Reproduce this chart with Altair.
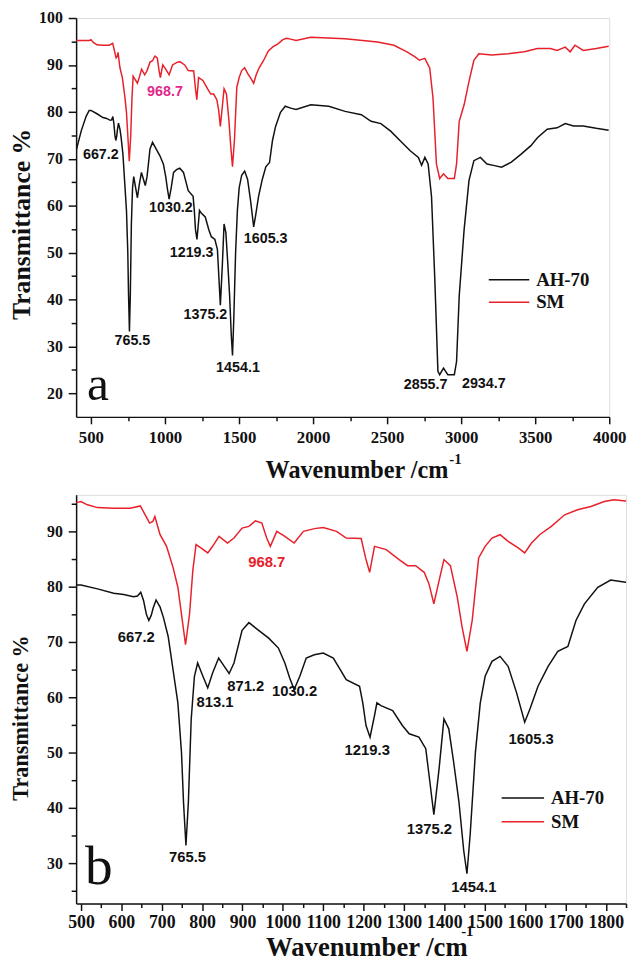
import altair as alt
import pandas as pd

# ---------------- data ----------------
ah_wn = [400, 434, 467, 488, 500, 541, 581, 606, 630, 640, 648, 655, 662, 668, 674, 679, 686, 696, 704,
         716, 728, 740, 749, 754, 760, 766, 773, 781, 789, 802, 814, 826, 841, 855, 867, 879, 899, 916,
         940, 965, 989, 1005, 1017, 1028, 1042, 1058, 1078, 1100, 1125, 1157, 1190, 1198, 1206, 1216,
         1227, 1233, 1243, 1272, 1296, 1313, 1337, 1354, 1362, 1374, 1387, 1399, 1411, 1423, 1436, 1448,
         1456, 1464, 1477, 1489, 1501, 1518, 1538, 1558, 1579, 1599, 1612, 1632, 1657, 1681, 1706, 1726,
         1747, 1780, 1812, 1849, 1885, 1985, 2106, 2216, 2326, 2392, 2458, 2524, 2590, 2656, 2711, 2733,
         2755, 2777, 2800, 2822, 2843, 2855, 2881, 2910, 2954, 2969, 2987, 3020, 3053, 3086, 3130, 3174,
         3218, 3273, 3339, 3405, 3471, 3515, 3581, 3648, 3703, 3758, 3824, 3912, 3996]
ah_t = [71.7, 75.9, 79.0, 80.3, 80.3, 79.6, 78.8, 78.6, 78.2, 78.3, 79.0, 77.5, 75.0, 73.9, 74.8, 76.2, 77.6, 76.3, 74.5,
        71.0, 65.0, 59.0, 50.0, 41.0, 33.2, 41.0, 56.0, 63.8, 66.2, 63.8, 61.7, 64.4, 67.1, 65.6, 64.3, 66.2, 72.1, 73.5,
        72.1, 70.7, 68.9, 66.2, 63.5, 61.4, 63.8, 67.1, 67.7, 68.0, 67.1, 63.2, 62.0, 59.0, 54.9, 52.8,
        56.7, 59.0, 58.5, 57.6, 54.9, 53.4, 52.8, 50.7, 46.0, 38.8, 47.1, 56.1, 54.3, 48.3, 41.2, 32.3,
        28.1, 35.2, 50.1, 59.0, 63.8, 66.5, 67.4, 65.6, 60.8, 55.5, 57.9, 62.0, 65.6, 68.3, 69.2, 73.9,
        76.9, 79.9, 81.2, 80.8, 80.5, 81.5, 81.2, 80.1, 79.4, 78.0, 77.5, 75.9, 73.8, 71.7, 70.3, 68.6,
        70.3, 68.9, 61.9, 44.4, 24.7, 24.0, 25.4, 24.0, 24.0, 26.8, 40.8, 54.9, 65.4, 69.6, 70.3, 68.9,
        68.6, 68.2, 69.3, 71.0, 72.8, 74.5, 76.3, 76.6, 77.5, 77.0, 77.0, 76.5, 76.1]

sm_wn = [400, 467, 488, 500, 516, 541, 581, 622, 647, 659, 670, 678, 683, 696, 712, 728, 740, 751, 759,
         769, 777, 785, 797, 814, 826, 842, 863, 879, 899, 916, 932, 948, 960, 969, 985, 1005, 1028, 1051,
         1078, 1100, 1133, 1157, 1194, 1205, 1215, 1227, 1256, 1288, 1309, 1329, 1350, 1362, 1374, 1387,
         1399, 1415, 1432, 1444, 1456, 1469, 1485, 1501, 1518, 1538, 1558, 1583, 1599, 1616, 1636, 1665,
         1698, 1730, 1763, 1796, 1820, 1849, 1885, 1985, 2216, 2436, 2546, 2634, 2689, 2718, 2755, 2788,
         2810, 2833, 2855, 2881, 2910, 2954, 2969, 2987, 3020, 3053, 3086, 3119, 3207, 3317, 3427, 3515,
         3603, 3648, 3703, 3736, 3769, 3824, 3912, 3996]
sm_t = [95.2, 95.2, 95.2, 95.4, 94.8, 94.3, 94.2, 94.2, 94.6, 93.0, 91.5, 91.8, 92.7, 89.4, 87.3, 83.5, 79.9, 73.9, 69.5,
        75.1, 82.9, 87.6, 87.0, 86.1, 87.3, 89.1, 87.9, 88.8, 90.6, 90.9, 91.9, 91.5, 88.8, 87.3, 90.0, 89.1, 87.9, 90.0,
        90.5, 90.7, 90.0, 88.8, 88.7, 85.2, 82.6, 87.3, 86.7, 84.9, 83.8, 83.8, 82.6, 80.5, 76.9, 81.1,
        84.9, 83.8, 78.1, 72.7, 68.3, 73.9, 85.2, 87.3, 88.8, 89.4, 88.2, 87.0, 86.1, 87.9, 89.4, 90.9,
        93.0, 93.9, 94.5, 95.4, 95.7, 95.5, 95.2, 95.9, 95.6, 94.9, 94.2, 92.8, 91.7, 91.0, 91.4, 89.3,
        82.9, 68.9, 65.8, 66.8, 65.8, 65.8, 68.9, 78.0, 81.5, 86.5, 91.0, 92.4, 92.1, 92.4, 92.8, 93.5,
        93.5, 93.1, 93.8, 92.8, 94.2, 93.1, 93.5, 94.0]

series_names = ["AH-70", "SM"]
series_colors = ["#111111", "#e8202a"]

# peak labels, panel a
ann_a_text = ["667.2", "968.7", "765.5", "1030.2", "1219.3", "1375.2", "1454.1", "1605.3", "2855.7", "2934.7"]
ann_a_x = [567, 1000, 780, 1040, 1180, 1273, 1493, 1680, 2760, 3153]
ann_a_y = [70.7, 84.2, 31.2, 59.4, 49.9, 36.8, 25.3, 52.8, 21.7, 21.9]
ann_a_col = ["#111111", "#e0288a", "#111111", "#111111", "#111111", "#111111", "#111111", "#111111",
             "#111111", "#111111"]

# peak labels, panel b
ann_b_text = ["667.2", "968.7", "765.5", "813.1", "871.2", "1030.2", "1219.3", "1375.2", "1454.1", "1605.3"]
ann_b_x = [637, 960, 764, 832, 908, 1029, 1209, 1363, 1473, 1615]
ann_b_y = [70.9, 84.5, 31.1, 59.1, 62.0, 61.2, 50.5, 36.1, 25.7, 52.5]
ann_b_col = ["#111111", "#e8202a", "#111111", "#111111", "#111111", "#111111", "#111111", "#111111",
             "#111111", "#111111"]

spectra = pd.concat([
    pd.DataFrame({"wn": ah_wn, "t": ah_t, "series": series_names[0]}),
    pd.DataFrame({"wn": sm_wn, "t": sm_t, "series": series_names[1]}),
])

SERIF = "Liberation Serif"
SANS = "Liberation Sans"


def panel(p):
    xscale = alt.Scale(domain=p["xdom"], nice=False, zero=False)
    yscale = alt.Scale(domain=p["ydom"], nice=False, zero=False)
    xmajor, ymajor = p["xmajor"], p["ymajor"]
    xaxis = alt.Axis(
        values=p["xvals"], tickCount=200, format="d",
        labelExpr=f"datum.value % {xmajor} === 0 ? datum.label : ''",
        labelFont=SERIF, labelFontWeight="bold", labelFontSize=p["xlab"], labelColor="#111",
        labelFlush=False, labelOverlap=False, labelPadding=p["xpad"], grid=False,
        tickSize={"condition": {"test": f"datum.value % {xmajor} === 0", "value": 7}, "value": 4},
        tickWidth=1.5, tickColor="#111", domainColor="#111", domainWidth=1.5,
        title="Wavenumber /cm", titleFont=SERIF, titleFontWeight="bold", titleFontSize=p["xt_size"],
        titleColor="#111", titleX=p["xt_x"], titleY=p["xt_y"], titleAlign="center",
        titleBaseline="alphabetic",
    )
    yaxis = alt.Axis(
        values=p["yvals"], tickCount=200, format="d",
        labelExpr=f"datum.value % {ymajor} === 0 ? datum.label : ''",
        labelFont=SERIF, labelFontWeight="bold", labelFontSize=16, labelColor="#111",
        labelFlush=False, labelOverlap=False, labelPadding=p["ypad"], grid=False,
        tickSize={"condition": {"test": f"datum.value % {ymajor} === 0", "value": 8}, "value": 5},
        tickWidth=1.5, tickColor="#111", domainColor="#111", domainWidth=1.5,
        title="Transmittance %", titleFont=SERIF, titleFontWeight="bold", titleFontSize=p["yt_size"],
        titleColor="#111", titleAngle=270, titleX=p["yt_x"], titleY=p["yt_y"], titleAlign="center",
        titleBaseline="middle",
    )
    lines = alt.Chart(spectra).mark_line(strokeWidth=1.5, clip=True).encode(
        x=alt.X("wn:Q", scale=xscale, axis=xaxis),
        y=alt.Y("t:Q", scale=yscale, axis=yaxis),
        color=alt.Color("series:N", scale=alt.Scale(domain=series_names, range=series_colors), legend=None),
    )
    ann_df = pd.DataFrame({"label": p["ann_text"], "x": p["ann_x"], "y": p["ann_y"], "c": p["ann_col"]})
    ann = alt.Chart(ann_df).mark_text(font=SANS, fontWeight="bold", fontSize=p["ann_size"]).encode(
        x=alt.X("x:Q", scale=xscale), y=alt.Y("y:Q", scale=yscale), text="label:N",
        color=alt.Color("c:N", scale=None),
    )
    let_df = pd.DataFrame({"label": [p["letter"]], "x": [p["letter_x"]], "y": [p["letter_y"]]})
    let = alt.Chart(let_df).mark_text(font=SERIF, fontSize=p["letter_size"], baseline="alphabetic",
                                      color="#111").encode(
        x=alt.X("x:Q", scale=xscale), y=alt.Y("y:Q", scale=yscale), text="label:N")
    sup = alt.Chart(pd.DataFrame({"s": ["-1"]})).mark_text(
        font=SERIF, fontWeight="bold", fontSize=15, color="#111", align="left", baseline="alphabetic"
    ).encode(x=alt.value(p["sup"][0]), y=alt.value(p["sup"][1]), text="s:N")
    layers = [lines, ann, let, sup]
    for i, name in enumerate(series_names):
        d = pd.DataFrame({"name": [name]})
        layers.append(alt.Chart(d).mark_rule(strokeWidth=1.5, color=series_colors[i]).encode(
            x=alt.value(p["leg_x0"]), x2=alt.value(p["leg_x1"]), y=alt.value(p["leg_y"][i])))
        layers.append(alt.Chart(d).mark_text(font=SERIF, fontWeight="bold", fontSize=19,
                                             align="left", baseline="middle", color="#111").encode(
            x=alt.value(p["leg_tx"]), y=alt.value(p["leg_y"][i]), text="name:N"))
    return alt.layer(*layers).properties(width=p["w"], height=p["h"])


pa = panel(dict(
    letter="a", letter_x=547, letter_y=18.7, letter_size=50,
    xdom=[400, 4000], ydom=[15, 100], xvals=list(range(500, 4001, 250)), xmajor=500,
    yvals=list(range(20, 101, 5)), ymajor=10, w=540, h=404,
    ann_text=ann_a_text, ann_x=ann_a_x, ann_y=ann_a_y, ann_col=ann_a_col, ann_size=14.5,
    xlab=17, xpad=6, ypad=6, xt_size=24.5, xt_x=284, xt_y=61, yt_size=26, yt_x=-55, yt_y=208.5,
    sup=(378, 452), leg_x0=418, leg_x1=459, leg_tx=466, leg_y=[265, 288],
))
pb = panel(dict(
    letter="b", letter_x=544, letter_y=26.2, letter_size=56,
    xdom=[488, 1850], ydom=[22.7, 96.6], xvals=list(range(500, 1851, 50)), xmajor=100,
    yvals=list(range(25, 96, 5)), ymajor=10, w=557, h=414,
    ann_text=ann_b_text, ann_x=ann_b_x, ann_y=ann_b_y, ann_col=ann_b_col, ann_size=15,
    xlab=18, xpad=3, ypad=6, xt_size=27, xt_x=294, xt_y=53, yt_size=22.5, yt_y=225.5, yt_x=-56,
    sup=(390, 447), leg_x0=431, leg_x1=474, leg_tx=481, leg_y=[307, 331],
))

chart = alt.vconcat(pa, pb, spacing=12).properties(
    padding={"left": 0, "top": -5, "right": 0, "bottom": -6}
).configure_view(stroke="#111", strokeWidth=1.5).configure(background="white")

chart.save("out.html", embed_options={"renderer": "svg", "actions": False})
